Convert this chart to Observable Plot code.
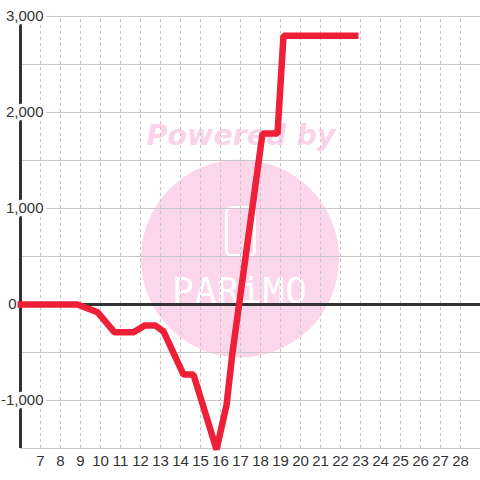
<!DOCTYPE html>
<html>
<head>
<meta charset="utf-8">
<script src="https://cdn.jsdelivr.net/npm/d3@7"></script>
<script src="https://cdn.jsdelivr.net/npm/@observablehq/plot@0.6"></script>
<style>
  html, body { margin: 0; padding: 0; background: #ffffff; }
  #wrap { position: relative; width: 480px; height: 480px; }
  #wrap > svg { position: absolute; left: 0; top: 0; }
</style>
</head>
<body>
<div id="wrap">
  <svg id="wm" width="480" height="480">
    <circle cx="240" cy="258.5" r="99" fill="#fcd6eb"></circle>
    <text x="241" y="145" font-family="DejaVu Sans" font-weight="bold" font-style="italic" font-size="28.5" fill="#fbd3e9" text-anchor="middle">Powered by</text>
    <rect x="226.5" y="207.5" width="28" height="48" rx="5" fill="none" stroke="#ffffff" stroke-width="3"></rect>
    <text x="240" y="303" font-family="DejaVu Sans Mono" font-size="36" fill="#ffffff" text-anchor="middle" letter-spacing="1">PARiMO</text>
  </svg>
</div>
<script>
// ---- data ----
const xValues = [5.85, 8.85, 9.85, 10.7, 11.65, 12.2, 12.75, 13.15, 14.15, 14.65, 15.8, 16.3, 16.6, 18.1, 18.85, 19.15, 22.9];
const yValues = [0, 0, -80, -290, -290, -220, -220, -280, -730, -730, -1510, -1050, -500, 1780, 1780, 2800, 2800];
const xTicks = [7, 8, 9, 10, 11, 12, 13, 14, 15, 16, 17, 18, 19, 20, 21, 22, 23, 24, 25, 26, 27, 28];
const yGrid = [-1500, -1000, -500, 0, 500, 1000, 1500, 2000, 2500, 3000];
const yLabels = [-1000, 1000, 2000, 3000];
const yZeroLabel = [0];

const data = xValues.map((x, i) => ({x, y: yValues[i]}));
const fmt = d => d3.format(",")(d).replace("\u2212", "-");

const chart = Plot.plot({
  width: 480,
  height: 480,
  marginLeft: 20,
  marginRight: 0,
  marginTop: 16,
  marginBottom: 32,
  x: {domain: [6, 29], axis: null},
  y: {domain: [-1500, 3000], axis: null},
  style: {background: "transparent", fontFamily: "'Liberation Sans', Arial, sans-serif"},
  marks: [
    Plot.ruleY(yGrid, {y: d => d, x1: 6, x2: 29, stroke: "#c8c8c8", strokeWidth: 1}),
    Plot.ruleX(xTicks, {x: d => d, y1: -1500, y2: 3000, stroke: "#c4c4c4", strokeWidth: 1, strokeDasharray: "3,3"}),
    Plot.ruleY([0], {y: d => d, x1: 6, x2: 29, stroke: "#333333", strokeWidth: 3}),
    Plot.ruleX([6], {x: d => d, y1: -1500, y2: 3000, stroke: "#333333", strokeWidth: 3}),
    Plot.text(yLabels, {x: 6, y: d => d, text: fmt, textAnchor: "end", dx: 23, fontSize: 15, fill: "#333333", stroke: "#ffffff", strokeWidth: 7}),
    Plot.text(yZeroLabel, {x: 6, y: d => d, text: fmt, textAnchor: "end", dx: -4, fontSize: 15, fill: "#333333"}),
    Plot.text(xTicks, {x: d => d, y: -1500, text: d => String(d), dy: 13, fontSize: 15, fill: "#333333"}),
    Plot.line(data, {x: "x", y: "y", stroke: "#ee2037", strokeWidth: 6.5, strokeLinejoin: "miter", strokeLinecap: "butt"})
  ]
});
document.getElementById("wrap").appendChild(chart);
</script>
</body>
</html>
